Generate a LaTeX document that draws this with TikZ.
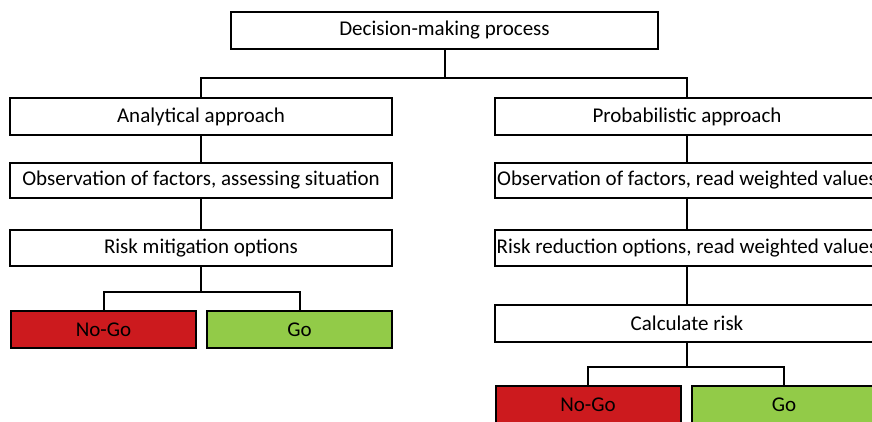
\documentclass[tikz,border=0pt]{standalone}
\usepackage{fontspec}
\setmainfont{Carlito}
\usepackage{tikz}
\usetikzlibrary{positioning}
\definecolor{nogored}{RGB}{204,26,30}
\definecolor{gogreen}{RGB}{146,203,72}

\begin{document}
\begin{tikzpicture}[x=1pt,y=-1pt,line width=2pt]
		\tikzset{
			stepbox/.style={draw,fill=white,minimum width=382pt,minimum height=36pt,
				inner sep=0pt,font=\fontsize{21}{24}\selectfont},
			nogobox/.style={stepbox,fill=nogored,minimum width=185pt},
			gobox/.style={stepbox,fill=gogreen,minimum width=185pt}
		}
		\useasboundingbox (0,0) rectangle (872,421);
		\node(top)[stepbox,minimum width=427pt,minimum height=37pt] at (444.5,30.5){Decision-making process};
		% analytical side
		\node(anal)[stepbox,minimum height=37pt] at (201,116.5){Analytical approach};
		\node(obsl)[stepbox,minimum height=35pt] at (201,180.5){Observation of factors, assessing situation};
		\node(riskl)[stepbox] at (201,248){Risk mitigation options};
		\node(nogol)[nogobox,minimum height=37pt] at (103.5,329.5){No-Go};
		\node(gol)[gobox,minimum height=37pt] at (299.5,329.5){Go};
		% probabilistic side
		\node(prob)[stepbox,minimum width=384pt,minimum height=37pt] at (687,116.5){Probabilistic approach};
		\node(obsr)[stepbox,minimum width=384pt,minimum height=35pt] at (687,180.5){Observation of factors, read weighted values};
		\node(riskr)[stepbox,minimum width=384pt] at (687,248){Risk reduction options, read weighted values};
		\node(calc)[stepbox,minimum width=384pt,minimum height=37pt] at (687,323.5){Calculate risk};
		\node(nogor)[nogobox,minimum height=37pt] at (588,404.5){No-Go};
		\node(gor)[gobox,minimum height=37pt] at (784,404.5){Go};
		\coordinate(bartop) at (444.5,78);
		\coordinate(barl) at (201,292);
		\coordinate(barr) at (687,367);
		\draw (top) -- (bartop);
		\draw (anal) |- (bartop) -| (prob);
		\draw (anal) -- (obsl);
		\draw (obsl) -- (riskl);
		\draw (riskl) -- (barl);
		\draw (nogol) |- (barl) -| (gol);
		\draw (prob) -- (obsr);
		\draw (obsr) -- (riskr);
		\draw (riskr) -- (calc);
		\draw (calc) -- (barr);
		\draw (nogor) |- (barr) -| (gor);
\end{tikzpicture}
\end{document}
